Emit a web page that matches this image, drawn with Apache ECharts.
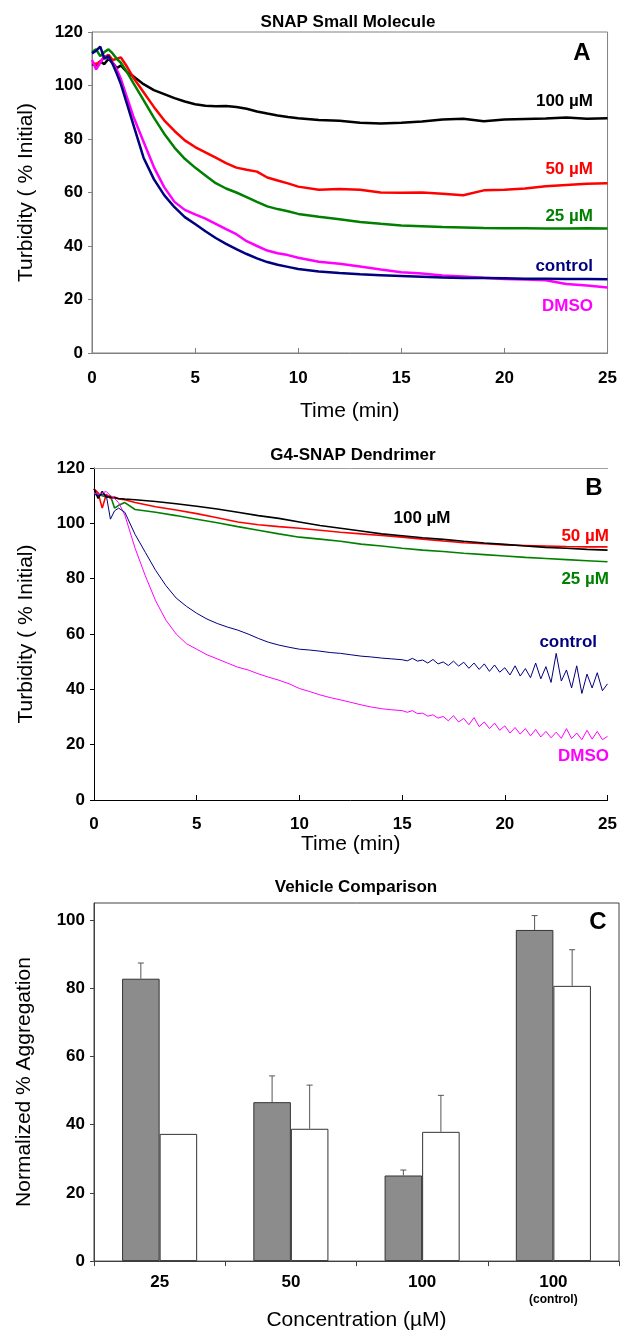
<!DOCTYPE html>
<html><head><meta charset="utf-8">
<script src="https://cdn.jsdelivr.net/npm/echarts@6/dist/echarts.min.js"></script>
<style>html,body{margin:0;padding:0;background:#fff}#c{width:620px;height:1332px}</style>
</head><body><div id="c"></div>
<script>
// ---------- Panel A: SNAP Small Molecule ----------
const timesA = [0,0.2,0.4,0.6,0.8,1,1.2,1.4,1.7,2,2.5,3,3.5,4,4.5,5,5.5,6,6.5,7,7.5,8,8.5,9,9.5,10,11,12,13,14,15,16,17,18,19,20,21,22,23,24,25];
const a100 = [108,107.5,109,108,110,108.5,106.5,107.5,105,103.5,100.5,98.3,96.8,95.3,94,93,92.4,92.2,92.3,92,91.3,90.3,89.5,88.8,88.2,87.8,87.1,86.8,86.1,85.8,86.1,86.5,87.3,87.6,86.6,87.3,87.5,87.7,88,87.6,87.8];
const a50  = [108.5,108,109,110.5,111.5,109.5,110,110.5,107,103,97.5,92,87,83,79.5,77,75,73,71,69.3,68.5,67.8,65.6,64.5,63.4,62.2,61,61.3,61,60,59.9,60,59.5,59,60.8,61,61.5,62.3,62.8,63.3,63.5];
const a25  = [112.5,113.5,111,112.5,113.5,112,110,108.5,105,101,94.5,88,82,76.8,72.6,69.3,66.4,63.5,61.5,60,58.3,56.5,54.8,53.8,53,52,50.9,50,49,48.3,47.7,47.4,47.1,46.9,46.7,46.6,46.6,46.5,46.5,46.6,46.5];
const aCtl = [112,113,114.5,110,111,108,104.5,100.5,93,85.5,73,65,59,54.5,50.8,48.2,45.5,43,40.8,38.8,37,35.4,34,33,32.2,31.4,30.5,29.9,29.4,29.1,28.8,28.5,28.2,28,28,27.9,27.8,27.8,27.7,27.7,27.6];
const aDmso= [109.5,106,108.5,111,110.5,108.5,106,102.5,95.5,88.5,79,69.5,62,56.5,53.5,51.8,50.2,48.3,46.3,44.4,41.8,40,38.3,37.3,36.6,35.6,34.1,33.4,32.3,31.2,30.2,29.7,29,28.6,28.1,27.7,27.5,27.2,25.8,25.2,24.5];

// ---------- Panel B: G4-SNAP Dendrimer ----------
const timesB = [0,0.2,0.4,0.6,0.8,1,1.2,1.5,2,3,4,5,6,7,8,9,10,11,12,13,14,15,16,17,18,19,20,21,22,23,24,25];
const b100 = [112.5,109,111.5,109.5,109.5,109.2,109,108.8,108.5,107.9,107.1,106.2,105.2,104,102.8,101.8,100.5,99.2,98.2,97.2,96.2,95.5,94.8,94.2,93.5,92.9,92.4,91.8,91.3,91,90.6,90.3];
const b50  = [112.5,111,105.5,110.5,109,109.5,108.8,108.5,107.5,106,104.8,103.5,102,100.5,99.5,98.8,98.2,97.5,96.8,96.2,95.6,95,94.3,93.6,93,92.6,92.2,92,91.8,91.6,91.5,91.5];
const b25  = [111,110.5,110,109.5,110,105.5,106.5,107.5,105,104,102.8,101.5,100.2,98.8,97.5,96.2,95,94.3,93.5,92.5,91.8,91,90.3,89.8,89.2,88.7,88.2,87.7,87.3,86.9,86.5,86.1];
const timesBN = [0,0.2,0.4,0.6,0.8,1,1.2,1.5,2,2.5,3,3.5,4,4.5,5,5.5,6,6.5,7,7.5,8,8.5,9,9.5,10,10.5,11,11.5,12,12.5,13,13.5,14,14.5,15,15.25,15.5,15.75,16,16.25,16.5,16.75,17,17.25,17.5,17.75,18,18.25,18.5,18.75,19,19.25,19.5,19.75,20,20.25,20.5,20.75,21,21.25,21.5,21.75,22,22.25,22.5,22.75,23,23.25,23.5,23.75,24,24.25,24.5,24.75,25];
const bCtl = [110.5,110,110.5,110,101.5,104.5,105.5,104,96,89.5,83,77.5,73,70,67.5,65.4,63.8,62.5,61.4,60,58.4,57,56,55.2,54.5,54.2,53.8,53.3,53,52.5,52,51.7,51.3,51,50.7,50.3,51.2,50.2,50.6,49.5,50.8,49.2,49.9,48.6,50.2,48.4,49.8,47.6,49.5,47.2,49.2,46.5,48.8,46.2,47.8,45.2,48.5,44.8,47.5,44.2,49.5,43.8,48.2,42.5,53,43,47,40.5,48.5,38.5,45.5,40.5,46,39.5,42];
const bDmso= [111,110.5,111,111.5,110,109,107.5,103,91,81,72,65,60,56.5,54.5,52.5,51,49.5,48,47,45.6,44.4,43.3,42,40.3,39.2,38,37,36.2,35.3,34.4,33.6,33,32.6,32.3,31.7,32.3,31.2,31.4,30.3,30.8,29.6,30.2,28.6,30.5,28.2,29.5,27.2,29.8,26.5,28.2,25.8,27.8,25.2,26.8,24.2,26.2,23.8,25.8,23.2,25.5,22.8,24.8,22.5,24.5,22.3,25.8,22.2,24.2,21.8,25.2,22,24.8,21.8,23];

// ---------- Panel C: Vehicle Comparison ----------
const catsC = ['25','50','100','100\n(control)'];
const grayVals = [82.8, 46.6, 25.1, 97.1];
const grayErrTop = [87.4, 54.3, 26.7, 101.3];
const whiteVals = [37.3, 38.8, 37.9, 80.7];
const whiteErrTop = [null, 51.6, 48.6, 91.3];

const FF = '"Liberation Sans", Arial, sans-serif';
const BARFRAC = 0.286;
const zip = (t, v) => t.map((x, i) => [x, v[i]]);

function lineS(name, t, v, color, w, xi, yi) {
  return {name, type:'line', xAxisIndex:xi, yAxisIndex:yi, data:zip(t, v), showSymbol:false,
    symbol:'none', lineStyle:{color, width:w}, itemStyle:{color}, animation:false};
}
function errSeries(vals, tops, side) {
  const data = [];
  vals.forEach((v, i) => { if (tops[i] != null) data.push([i, v, tops[i]]); });
  return {type:'custom', xAxisIndex:3, yAxisIndex:2, data, encode:{x:0, y:[1,2]}, animation:false, z:5,
    renderItem(params, api) {
      const cat = api.value(0), lo = api.value(1), hi = api.value(2);
      const band = api.size([1, 0])[0];
      const bw = band * BARFRAC;
      const p0 = api.coord([cat, lo]), p1 = api.coord([cat, hi]);
      const x = p0[0] + side * bw / 2;
      return {type:'group', children:[
        {type:'line', shape:{x1:x, y1:p0[1], x2:x, y2:p1[1]}, style:{stroke:'#555', lineWidth:1}},
        {type:'line', shape:{x1:x-3, y1:p1[1], x2:x+3, y2:p1[1]}, style:{stroke:'#555', lineWidth:1}}
      ]};
    }};
}

const tickLbl = {color:'#000', fontWeight:'bold', fontSize:17, fontFamily:FF};
const nameSt = {color:'#000', fontSize:21, fontFamily:FF};

function valX(gi, color, margin, gap) {
  return {gridIndex:gi, type:'value', position:'bottom', min:0, max:25, interval:5,
    axisLine:{show:true, onZero:false, lineStyle:{color, width:1}},
    axisTick:{show:true, inside:true, length:5, lineStyle:{color}},
    axisLabel:Object.assign({margin}, tickLbl), splitLine:{show:false},
    name:'Time (min)', nameLocation:'middle', nameGap:gap, nameTextStyle:nameSt};
}
function valY(gi, color, max, name, gap) {
  return {gridIndex:gi, type:'value', position:'left', min:0, max, interval:20,
    axisLine:{show:true, onZero:false, lineStyle:{color, width:1}},
    axisTick:{show:true, length:4, lineStyle:{color}},
    axisLabel:Object.assign({margin:9, showMaxLabel: max === 120}, tickLbl), splitLine:{show:false},
    name, nameLocation:'middle', nameGap:gap, nameRotate:90, nameTextStyle:nameSt};
}
function frameX(gi, color) {
  return {gridIndex:gi, type:'value', position:'top', min:0, max:1,
    axisLine:{show:true, onZero:false, lineStyle:{color, width:1}}, axisTick:{show:false},
    axisLabel:{show:false}, splitLine:{show:false}};
}
function txt(text, x, y, color, size, align, weight) {
  return {type:'text', x, y, silent:true, style:{text, fill:color, font:(weight||'bold')+' '+size+'px '+FF,
    textAlign:align||'center', align:align||'center', textVerticalAlign:'middle', verticalAlign:'middle'}};
}

const option = {
  backgroundColor:'#fff',
  animation:false,
  grid:[
    {left:92, top:32, width:516, height:321, show:true, borderColor:'#808080', borderWidth:1, backgroundColor:'transparent'},
    {left:94, top:468, width:521, height:332},
    {left:94, top:903, width:525, height:365, show:true, borderColor:'#404040', borderWidth:1, backgroundColor:'transparent'}
  ],
  xAxis:[
    valX(0, '#808080', 17, 48),
    valX(1, '#000', 16, 31),
    frameX(1, '#a0a0a0'),
    {gridIndex:2, type:'category', position:'bottom', data:catsC,
      axisLine:{show:true, lineStyle:{color:'#404040'}},
      axisTick:{show:true, length:5, alignWithLabel:false, lineStyle:{color:'#404040'}},
      axisLabel:{margin:12, color:'#000', fontFamily:FF, lineHeight:18,
        formatter:(v) => v.split('\n').map((s, i) => i ? '{s|' + s + '}' : '{m|' + s + '}').join('\n'),
        rich:{m:{fontSize:17, fontWeight:'bold', fontFamily:FF, color:'#000', lineHeight:18},
              s:{fontSize:12, fontWeight:'bold', fontFamily:FF, color:'#000', lineHeight:18}}},
      name:'Concentration (µM)', nameLocation:'middle', nameGap:40, nameTextStyle:nameSt}
  ],
  yAxis:[
    valY(0, '#808080', 120, 'Turbidity ( % Initial)', 55),
    valY(1, '#000', 120, 'Turbidity ( % Initial)', 57),
    valY(2, '#404040', 105, 'Normalized % Aggregation', 59)
  ],
  series:[
    lineS('100 µM', timesA, a100, '#000000', 2.5, 0, 0),
    lineS('50 µM', timesA, a50, '#ff0000', 2.5, 0, 0),
    lineS('25 µM', timesA, a25, '#008000', 2.5, 0, 0),
    lineS('DMSO', timesA, aDmso, '#ff00ff', 2.5, 0, 0),
    lineS('control', timesA, aCtl, '#000080', 2.5, 0, 0),

    lineS('B 25 µM', timesB, b25, '#008000', 1.6, 1, 1),
    lineS('B 50 µM', timesB, b50, '#ff0000', 1.6, 1, 1),
    lineS('B 100 µM', timesB, b100, '#000000', 1.6, 1, 1),
    lineS('B DMSO', timesBN, bDmso, '#ff00ff', 1, 1, 1),
    lineS('B control', timesBN, bCtl, '#000080', 1, 1, 1),

    {name:'SNAP', type:'bar', xAxisIndex:3, yAxisIndex:2, data:grayVals, barWidth:(BARFRAC*100)+'%', barGap:'0%',
      itemStyle:{color:'#8c8c8c', borderColor:'#333', borderWidth:1}, animation:false},
    {name:'DMSO vehicle', type:'bar', xAxisIndex:3, yAxisIndex:2, data:whiteVals, barWidth:(BARFRAC*100)+'%', barGap:'0%',
      itemStyle:{color:'#ffffff', borderColor:'#333', borderWidth:1}, animation:false},
    errSeries(grayVals, grayErrTop, -1),
    errSeries(whiteVals, whiteErrTop, 1)
  ],
  graphic:[
    txt('SNAP Small Molecule', 348, 22, '#000', 17),
    txt('A', 582, 53, '#000', 24),
    txt('100 µM', 593, 101, '#000', 17, 'right'),
    txt('50 µM', 593, 169, '#ff0000', 17, 'right'),
    txt('25 µM', 593, 216, '#008000', 17, 'right'),
    txt('control', 593, 266, '#000080', 17, 'right'),
    txt('DMSO', 593, 306, '#ff00ff', 17, 'right'),

    txt('G4-SNAP Dendrimer', 353, 455, '#000', 17),
    txt('B', 594, 488, '#000', 24),
    txt('100 µM', 422, 518, '#000', 17),
    txt('50 µM', 609, 536, '#ff0000', 17, 'right'),
    txt('25 µM', 609, 579, '#008000', 17, 'right'),
    txt('control', 597, 642, '#000080', 17, 'right'),
    txt('DMSO', 609, 756, '#ff00ff', 17, 'right'),

    txt('Vehicle Comparison', 356, 887, '#000', 17),
    txt('C', 598, 922, '#000', 24)
  ]
};
const chart = echarts.init(document.getElementById('c'), null, {renderer:'canvas'});
chart.setOption(option);
</script></body></html>
